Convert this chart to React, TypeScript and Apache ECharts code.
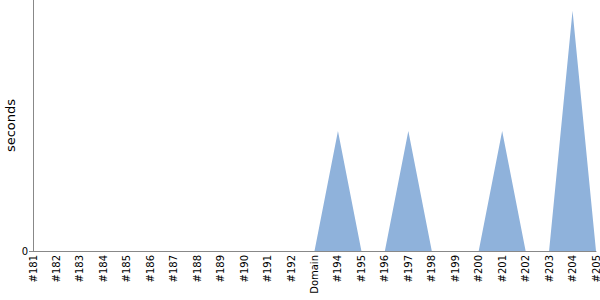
import React, { useEffect, useRef } from "react";
import * as echarts from "echarts";

const categories = [
  "#181", "#182", "#183", "#184", "#185", "#186", "#187", "#188", "#189", "#190",
  "#191", "#192", "Domain", "#194", "#195", "#196", "#197", "#198", "#199", "#200",
  "#201", "#202", "#203", "#204", "#205",
];
const seconds = [0, 0, 0, 0, 0, 0, 0, 0, 0, 0, 0, 0, 0, 1, 0, 0, 1, 0, 0, 0, 1, 0, 0, 2, 0];
const yMax = 2.09;
const yTicks = [0];

export default function App() {
  const ref = useRef<HTMLDivElement>(null);
  useEffect(() => {
    const chart = echarts.init(ref.current!, null, { renderer: "svg" });
    chart.setOption({
      animation: false,
      grid: { left: 33, right: 4, top: 0, bottom: 49, outerBoundsMode: "none", containLabel: false },
      textStyle: { fontFamily: "DejaVu Sans" },
      xAxis: {
        type: "category",
        data: categories,
        boundaryGap: false,
        axisLine: { lineStyle: { color: "#888", width: 1 } },
        axisTick: { show: false },
        axisLabel: {
          rotate: 90,
          interval: 0,
          fontSize: 10,
          color: "#000",
          fontFamily: "DejaVu Sans",
          margin: 4,
        },
      },
      yAxis: {
        type: "value",
        min: 0,
        max: yMax,
        name: "seconds",
        nameLocation: "middle",
        nameGap: 16,
        nameMoveOverlap: false,
        nameTextStyle: { fontSize: 13, color: "#000", fontFamily: "DejaVu Sans" },
        axisLine: { show: true, lineStyle: { color: "#888", width: 1 } },
        axisTick: { show: true, length: 4, lineStyle: { color: "#888" }, customValues: yTicks },
        splitLine: { show: false },
        axisLabel: {
          fontSize: 10,
          color: "#000",
          margin: 5,
          fontFamily: "DejaVu Sans",
          customValues: yTicks,
        },
      },
      series: [
        {
          type: "line",
          data: seconds,
          symbol: "none",
          lineStyle: { width: 0 },
          areaStyle: { color: "#8fb2db", opacity: 1 },
        },
      ],
    });
    return () => chart.dispose();
  }, []);
  return <div ref={ref} style={{ width: 600, height: 300, position: "absolute", left: 0, top: 0 }} />;
}
